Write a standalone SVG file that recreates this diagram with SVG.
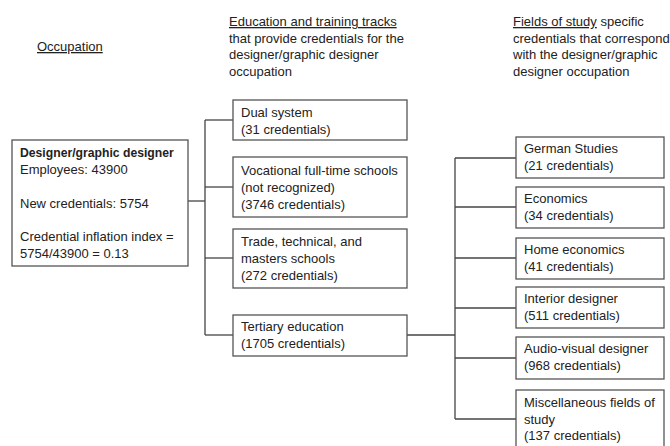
<svg xmlns="http://www.w3.org/2000/svg" width="670" height="446" viewBox="0 0 670 446">
<style>
text{font-family:"Liberation Sans",Arial,sans-serif;font-size:13px;fill:#222}
.b{font-weight:bold;font-size:12.2px}
.u{text-decoration:underline}
rect{fill:#fff;stroke:#555;stroke-width:1.3}
.c line{stroke:#444;stroke-width:1.3}
</style>
<rect x="0" y="0" width="670" height="446" style="fill:#fff;stroke:none"/>
<g id="headers">
<text x="37" y="51" class="u">Occupation</text>
<text x="229" y="26" class="u">Education and training tracks</text>
<text x="229" y="43">that provide credentials for the</text>
<text x="229" y="59">designer/graphic designer</text>
<text x="229" y="76">occupation</text>
<text x="513" y="26"><tspan class="u">Fields of study</tspan> specific</text>
<text x="513" y="43">credentials that correspond</text>
<text x="513" y="59">with the designer/graphic</text>
<text x="513" y="76">designer occupation</text>
</g>
<g class="c" id="connectors">
<line x1="188" y1="201" x2="205" y2="201"/>
<line x1="205" y1="120" x2="205" y2="335"/>
<line x1="205" y1="120" x2="233" y2="120"/>
<line x1="205" y1="187" x2="233" y2="187"/>
<line x1="205" y1="258" x2="233" y2="258"/>
<line x1="205" y1="335" x2="233" y2="335"/>
<line x1="407" y1="335" x2="455" y2="335"/>
<line x1="455" y1="158" x2="455" y2="419"/>
<line x1="455" y1="158" x2="516" y2="158"/>
<line x1="455" y1="207" x2="516" y2="207"/>
<line x1="455" y1="258" x2="516" y2="258"/>
<line x1="455" y1="308" x2="516" y2="308"/>
<line x1="455" y1="358" x2="516" y2="358"/>
<line x1="455" y1="419" x2="516" y2="419"/>
</g>
<g id="occupation">
<rect x="12" y="140" width="176" height="126"/>
<text x="20" y="157" class="b">Designer/graphic designer</text>
<text x="20" y="174">Employees: 43900</text>
<text x="20" y="208">New credentials: 5754</text>
<text x="20" y="241">Credential inflation index =</text>
<text x="20" y="258">5754/43900 = 0.13</text>
</g>
<g id="dual">
<rect x="233" y="100" width="174" height="40"/>
<text x="241" y="117">Dual system</text>
<text x="241" y="134">(31 credentials)</text>
</g>
<g id="vocational">
<rect x="233" y="157" width="174" height="60"/>
<text x="241" y="175">Vocational full-time schools</text>
<text x="241" y="192">(not recognized)</text>
<text x="241" y="209">(3746 credentials)</text>
</g>
<g id="trade">
<rect x="233" y="229" width="174" height="59"/>
<text x="241" y="246">Trade, technical, and</text>
<text x="241" y="263">masters schools</text>
<text x="241" y="280">(272 credentials)</text>
</g>
<g id="tertiary">
<rect x="233" y="315" width="174" height="41"/>
<text x="241" y="331">Tertiary education</text>
<text x="241" y="348">(1705 credentials)</text>
</g>
<g id="german">
<rect x="516" y="137" width="148" height="41"/>
<text x="524" y="153">German Studies</text>
<text x="524" y="170">(21 credentials)</text>
</g>
<g id="economics">
<rect x="516" y="187" width="148" height="41"/>
<text x="524" y="203">Economics</text>
<text x="524" y="220">(34 credentials)</text>
</g>
<g id="home">
<rect x="516" y="238" width="148" height="41"/>
<text x="524" y="254">Home economics</text>
<text x="524" y="271">(41 credentials)</text>
</g>
<g id="interior">
<rect x="516" y="287" width="148" height="41"/>
<text x="524" y="303">Interior designer</text>
<text x="524" y="320">(511 credentials)</text>
</g>
<g id="audio">
<rect x="516" y="337" width="148" height="42"/>
<text x="524" y="353">Audio-visual designer</text>
<text x="524" y="370">(968 credentials)</text>
</g>
<g id="misc">
<rect x="516" y="390" width="148" height="62"/>
<text x="524" y="407">Miscellaneous fields of</text>
<text x="524" y="424">study</text>
<text x="524" y="440">(137 credentials)</text>
</g>
</svg>
